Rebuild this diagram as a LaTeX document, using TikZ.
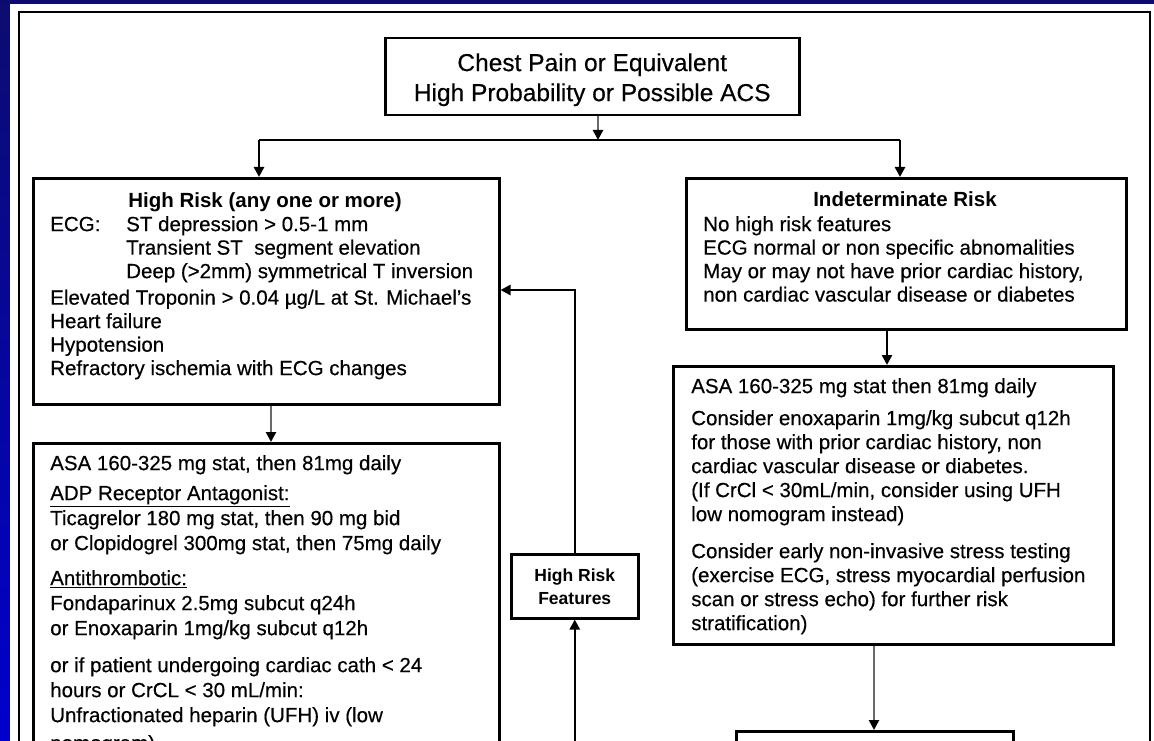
\documentclass[tikz,border=0pt]{standalone}
\usepackage{fontspec}
\setmainfont{Liberation Sans}[UprightFeatures={FakeBold=0.35}]
\usetikzlibrary{arrows.meta}
\definecolor{slidenavy}{RGB}{12,12,112}
\definecolor{slideblue}{RGB}{0,0,205}
\definecolor{linegrey}{RGB}{105,105,105}
\tikzset{
  chart/.style={
    x=1pt,
    y=-1pt,
    line width=2.5pt
  },
  rule/.style={draw=black, line width=2.5pt},
  panel/.style={
    draw=black,
    line width=2.5pt,
    inner sep=0pt,
    anchor=north west
  },
  heading/.style={
    inner sep=0pt,
    font=\bfseries\fontsize{20.5}{24}\selectfont
  },
  body/.style={
    anchor=north west,
    inner sep=0pt,
    align=left,
    font=\fontsize{20.5}{23.5}\selectfont
  },
  arrow/.style={rule, -{Triangle[length=10pt,width=10pt]}},
  greyarrow/.style={draw=linegrey, line width=2.6pt,
    -{Triangle[length=10pt,width=10pt,color=black]}}
}
\newcommand{\slidebackdrop}{%
  \useasboundingbox (0,0) rectangle (1154,741);
  \clip (0,0) rectangle (1154,741);
  \fill[slidenavy] (0,0) rectangle (1154,741);
  \shade[top color=slidenavy, bottom color=slideblue] (0,0) rectangle (10,741);
  \fill[white] (10,4) rectangle (1154,741);
}

\begin{document}
\begin{tikzpicture}[chart]
  \slidebackdrop
  % page frame
  \draw[rule] (19,12) rectangle (1150,770);

  % entry box
  \node[panel, minimum width=414pt, minimum height=77pt] (chest) at (384,37) {};
  \node[align=center, inner sep=0pt, font=\fontsize{24.5}{30}\selectfont]
    (chesttext) at ([shift={(0,3)}]chest.center)
    {Chest Pain or Equivalent\\High Probability or Possible ACS};

  % risk groups
  \node[panel, minimum width=466pt, minimum height=226pt] (high) at (32,177) {};
  \node[heading] (highhead) at (265,202) {High Risk (any one or more)};
  \node[body] (highbody) at (49,215) {%
    \makebox[76pt][l]{ECG:}ST depression > 0.5-1 mm\\
    \hspace*{76pt}Transient ST\ \ segment elevation\\
    \hspace*{76pt}Deep (>2mm) symmetrical T inversion\\[3pt]
    Elevated Troponin > 0.04 µg/L at St. Michael's\\
    Heart failure\\
    Hypotension\\
    Refractory ischemia with ECG changes};

  \node[panel, minimum width=440pt, minimum height=151pt] (indet) at (685,177) {};
  \node[heading] (indethead) at (905,199) {Indeterminate Risk};
  \node[body] (indetbody) at (702,215) {%
    No high risk features\\
    ECG normal or non specific abnomalities\\
    May or may not have prior cardiac history,\\
    non cardiac vascular disease or diabetes};

  % treatment boxes
  \node[panel, minimum width=466pt, minimum height=330pt] (highrx) at (32,442) {};
  \node[body, font=\fontsize{20.5}{25}\selectfont] (highrxbody) at (49,454) {%
    ASA 160-325 mg stat, then 81mg daily\\[5pt]
    \underline{ADP Receptor Antagonist:}\\
    Ticagrelor 180 mg stat, then 90 mg bid\\
    or Clopidogrel 300mg stat, then 75mg daily\\[10pt]
    \underline{Antithrombotic:}\\
    Fondaparinux 2.5mg subcut q24h\\
    or Enoxaparin 1mg/kg subcut q12h\\[12pt]
    or if patient undergoing cardiac cath < 24\\
    hours or CrCL < 30 mL/min:\\
    Unfractionated heparin (UFH) iv (low\\[3pt]
    nomogram)};

  \node[panel, minimum width=440pt, minimum height=278pt] (indetrx) at (672,365) {};
  \node[body, font=\fontsize{20.5}{24}\selectfont] (indetrxbody) at (690,377) {%
    ASA 160-325 mg stat then 81mg daily\\[8pt]
    Consider enoxaparin 1mg/kg subcut q12h\\
    for those with prior cardiac history, non\\
    cardiac vascular disease or diabetes.\\
    (If CrCl < 30mL/min, consider using UFH\\
    low nomogram instead)\\[13pt]
    Consider early non-invasive stress testing\\
    (exercise ECG, stress myocardial perfusion\\
    scan or stress echo) for further risk\\
    stratification)};

  \node[panel, minimum width=127pt, minimum height=64pt, align=center,
    font=\bfseries\fontsize{17.5}{23}\selectfont] (upgrade) at (510,553)
    {High Risk\\Features};
  \node[panel, minimum width=277pt, minimum height=60pt] (next) at (735,730) {};

  % connectors
  \coordinate (forkL) at (259,140);
  \coordinate (forkR) at (900,140);
  \coordinate (colchest) at (598,0);
  \coordinate (colhigh) at (271,0);
  \coordinate (colindet) at (887,0);
  \coordinate (colrx) at (874,0);
  \coordinate (backrow) at (0,290);
  \coordinate (recur) at (0,770);

  \draw[greyarrow] (colchest |- chest.south) -- (colchest |- forkL);
  \draw[rule] (forkL) -- (forkR);
  \draw[arrow] (forkL) -- (forkL |- high.north);
  \draw[arrow] (forkR) -- (forkR |- indet.north);
  \draw[greyarrow] (colhigh |- high.south) -- (colhigh |- highrx.north);
  \draw[arrow] (colindet |- indet.south) -- (colindet |- indetrx.north);
  \draw[greyarrow] (colrx |- indetrx.south) -- (colrx |- next.north);
  \draw[arrow] (upgrade.south |- recur) -- (upgrade.south);
  \draw[arrow] (upgrade.north) |- (high.east |- backrow);
\end{tikzpicture}
\end{document}
